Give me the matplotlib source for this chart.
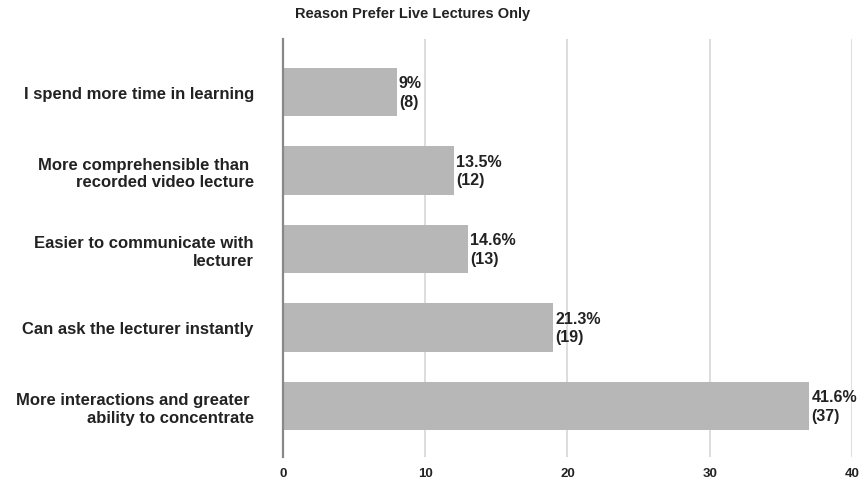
import matplotlib.pyplot as plt

# -----------------------------
# Data
# -----------------------------
reasons = [
    "I spend more time in learning",
    "More comprehensible than \nrecorded video lecture",
    "Easier to communicate with\nlecturer",
    "Can ask the lecturer instantly",
    "More interactions and greater \nability to concentrate",
]
counts = [8, 12, 13, 19, 37]
percents = ["9%", "13.5%", "14.6%", "21.3%", "41.6%"]

BAR_COLOR = "#b7b7b7"
plt.rcParams["font.family"] = ["Liberation Sans", "DejaVu Sans"]
plt.rcParams["font.weight"] = "bold"

# -----------------------------
# Plot
# -----------------------------
fig = plt.figure(figsize=(8.67, 4.85), dpi=100)
ax = fig.add_axes([0.3264, 0.0557, 0.6563, 0.8618])

pos = list(range(len(reasons)))
ax.barh(pos, counts, height=0.62, color=BAR_COLOR, zorder=2)

for y, c, p in zip(pos, counts, percents):
    ax.text(c + 0.15, y, f"{p}\n({c})", va="center", ha="left",
            fontsize=11.5, fontweight="bold", color="#222222", linespacing=1.3, zorder=3)

ax.set_xlim(0, 40)
ax.set_ylim(4.65, -0.675)
ax.set_xticks([0, 10, 20, 30, 40])
ax.set_yticks(pos)
ax.set_yticklabels(reasons, fontsize=12, fontweight="bold", color="#222222",
                   multialignment="right", linespacing=1.2)
ax.tick_params(axis="both", length=0)
ax.tick_params(axis="y", pad=21)
ax.tick_params(axis="x", pad=7, labelsize=9.5, labelcolor="#222222")
for lbl in ax.get_xticklabels():
    lbl.set_fontweight("bold")

ax.grid(axis="x", color="#dddddd", linewidth=1.4, zorder=0)
for s in ["top", "right", "bottom"]:
    ax.spines[s].set_visible(False)
ax.spines["left"].set_color("#888888")
ax.spines["left"].set_linewidth(1.6)
ax.spines["left"].set_zorder(4)

fig.text(413 / 867, 1 - 14 / 485, "Reason Prefer Live Lectures Only",
         ha="center", va="center", fontsize=10.5, fontweight="bold", color="#222222")

plt.savefig("out.png", dpi=100)
